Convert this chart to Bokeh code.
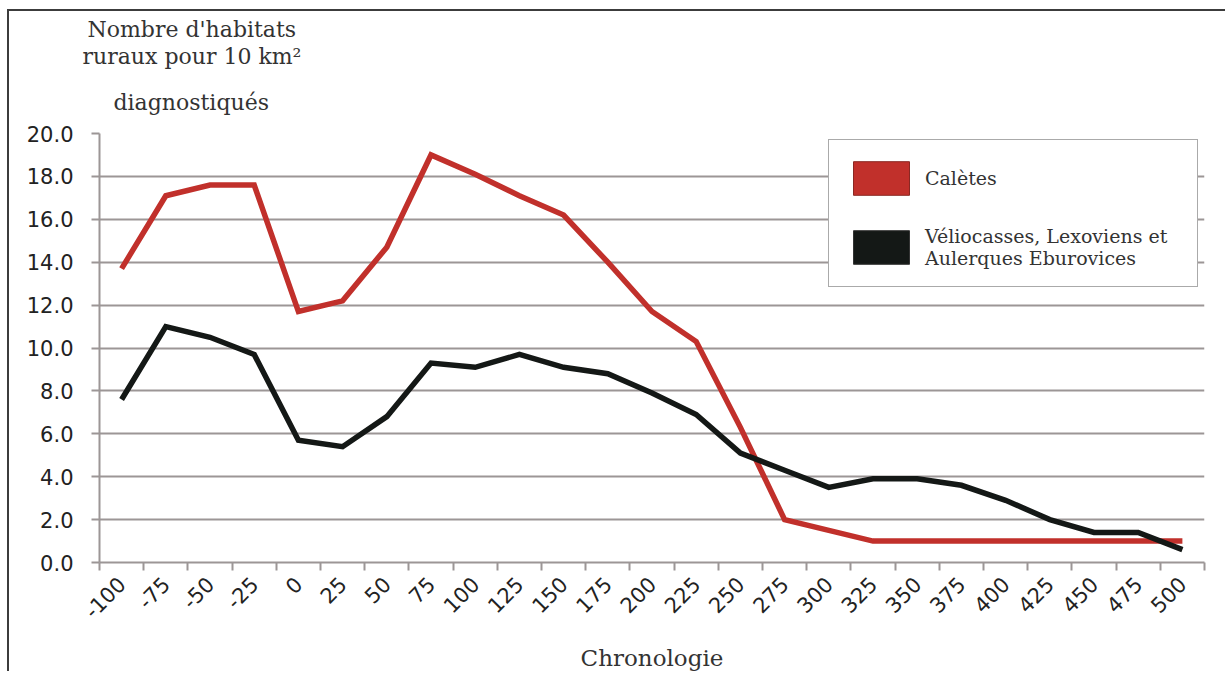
import math
from bokeh.plotting import figure
from bokeh.models import (FactorRange, Range1d, LinearAxis, CategoricalAxis, FixedTicker,
                          Legend, LegendItem, Title, ColumnDataSource, NumeralTickFormatter)
from bokeh.embed import file_html
from bokeh.resources import INLINE

# ---- data ----
periods = ["-100", "-75", "-50", "-25", "0", "25", "50", "75", "100", "125", "150", "175",
           "200", "225", "250", "275", "300", "325", "350", "375", "400", "425", "450", "475", "500"]
caletes = [13.7, 17.1, 17.6, 17.6, 11.7, 12.2, 14.7, 19.0, 18.1, 17.1, 16.2, 14.0,
           11.7, 10.3, 6.3, 2.0, 1.5, 1.0, 1.0, 1.0, 1.0, 1.0, 1.0, 1.0, 1.0]
veliocasses = [7.6, 11.0, 10.5, 9.7, 5.7, 5.4, 6.8, 9.3, 9.1, 9.7, 9.1, 8.8,
               7.9, 6.9, 5.1, 4.3, 3.5, 3.9, 3.9, 3.6, 2.9, 2.0, 1.4, 1.4, 0.6]
y_ticks = [0, 2, 4, 6, 8, 10, 12, 14, 16, 18, 20]
series_names = ["Calètes", "Véliocasses, Lexoviens et\nAulerques Eburovices"]
title_lines = ["Nombre d'habitats", "ruraux pour 10 km²", "diagnostiqués"]
x_title = "Chronologie"

RED = "#c1302b"
BLACK = "#141816"
GRID = "#9c9696"
SERIF = "DejaVu Serif"
SANS = "DejaVu Sans"

src = ColumnDataSource(dict(period=periods, caletes=caletes, veliocasses=veliocasses))

p = figure(width=1218, height=662,
           x_range=FactorRange(factors=periods),
           y_range=Range1d(0, 20),
           x_axis_location=None,
           output_backend="svg", toolbar_location=None,
           min_border_left=90, min_border_right=23, min_border_top=122, min_border_bottom=108)
p.outline_line_color = None
p.background_fill_color = "white"
p.border_fill_color = "white"
p.styles = {"border-left": "2px solid #3c3c3c", "border-top": "2px solid #3c3c3c",
            "margin-top": "9px", "margin-left": "7px"}
p.xgrid.grid_line_color = None

# y axis
p.yaxis.ticker = FixedTicker(ticks=y_ticks)
p.yaxis.formatter = NumeralTickFormatter(format="0.0")
p.yaxis.axis_line_color = GRID
p.yaxis.axis_line_width = 2
p.yaxis.major_tick_line_color = GRID
p.yaxis.major_tick_line_width = 2
p.yaxis.major_tick_out = 8
p.yaxis.major_tick_in = 0
p.yaxis.minor_tick_line_color = None
p.yaxis.major_label_text_font = SANS
p.yaxis.major_label_text_font_size = "21px"
p.yaxis.major_label_text_color = "#222222"
p.yaxis.major_label_standoff = 18
p.ygrid.grid_line_color = GRID
p.ygrid.grid_line_width = 2

# x axis: ticks on the category boundaries + category labels
tick_axis = LinearAxis(ticker=FixedTicker(ticks=list(range(len(periods) + 1))),
                       axis_line_color=GRID, axis_line_width=2,
                       major_tick_line_color=GRID, major_tick_line_width=2,
                       major_tick_out=8, major_tick_in=0,
                       minor_tick_line_color=None,
                       major_label_text_font_size="1px", major_label_text_alpha=0,
                       major_label_standoff=0)
cat_axis = CategoricalAxis(axis_line_color=None, major_tick_line_color=None,
                           minor_tick_line_color=None,
                           major_label_orientation=math.pi / 4,
                           major_label_text_font=SANS,
                           major_label_text_font_size="21px",
                           major_label_text_color="#222222",
                           major_label_standoff=4,
                           axis_label=x_title,
                           axis_label_text_font=SERIF,
                           axis_label_text_font_size="23px",
                           axis_label_text_font_style="normal",
                           axis_label_text_color="#333333",
                           axis_label_standoff=16)
p.add_layout(tick_axis, "below")
p.add_layout(cat_axis, "below")

# lines
p.line("period", "caletes", source=src, line_color=RED, line_width=5.5, line_join="miter")
p.line("period", "veliocasses", source=src, line_color=BLACK, line_width=5.5, line_join="miter")

# legend swatches (hidden renderers, shown only as legend keys)
sw1 = p.vbar(x="period", top="caletes", width=0.5, source=src, visible=False,
             fill_color=RED, line_color="#8a2823", line_width=1)
sw2 = p.vbar(x="period", top="veliocasses", width=0.5, source=src, visible=False,
             fill_color=BLACK, line_color="#333333", line_width=1)
legend = Legend(items=[LegendItem(label=series_names[0], renderers=[sw1]),
                       LegendItem(label=series_names[1], renderers=[sw2])],
                location="top_right", margin=6, padding=17, spacing=26,
                glyph_width=70, glyph_height=42, label_standoff=9, label_width=255,
                border_line_color="#555555", border_line_width=1.5,
                background_fill_color="white", background_fill_alpha=1,
                label_text_font=SERIF, label_text_font_size="19px", label_text_color="#333333",
                label_text_line_height=1.45)
p.add_layout(legend)

# title block: three centred lines, innermost first (the innermost carries the gap to the plot)
title_offsets = [-12, -17, 14]
title_standoffs = [0, 0, 38]
for i in (2, 1, 0):
    p.add_layout(Title(text=title_lines[i], align="left", offset=title_offsets[i],
                       standoff=title_standoffs[i],
                       text_font=SERIF, text_font_size="22px", text_font_style="normal",
                       text_color="#333333"), "above")

open("out.html", "w").write(file_html(p, INLINE))
